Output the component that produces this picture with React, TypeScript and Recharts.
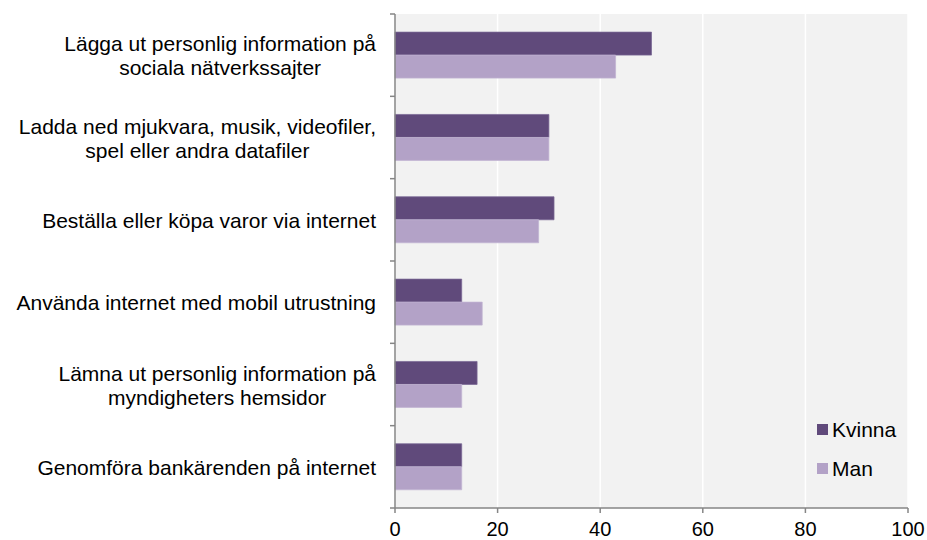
import React from 'react';
import { BarChart, Bar, XAxis, YAxis, CartesianGrid } from 'recharts';

const categories = [
  ['Lägga ut personlig information på', 'sociala nätverkssajter'],
  ['Ladda ned mjukvara, musik, videofiler,', 'spel eller andra datafiler'],
  ['Beställa eller köpa varor via internet'],
  ['Använda internet med mobil utrustning'],
  ['Lämna ut personlig information på', 'myndigheters hemsidor'],
  ['Genomföra bankärenden på internet'],
];
const kvinna = [50, 30, 31, 13, 16, 13];
const man = [43, 30, 28, 17, 13, 13];
const xTicks = [0, 20, 40, 60, 80, 100];

const KVINNA_COLOR = '#604a7b';
const MAN_COLOR = '#b3a2c7';
const AXIS_COLOR = '#868686';
const FONT = '"Liberation Sans", Arial, sans-serif';
const LABEL_SIZE = 21;

const W = 927;
const H = 540;
const TOP = 14;
const BOTTOM = 508;
const LEFT = 395;
const RIGHT = 908;
const band = (BOTTOM - TOP) / categories.length;

const data = categories.map((lines, i) => ({
  name: lines.join(' '),
  lines,
  Kvinna: kvinna[i],
  Man: man[i],
}));

let ctx: CanvasRenderingContext2D | null = null;
function textWidth(s: string) {
  if (!ctx) {
    ctx = document.createElement('canvas').getContext('2d');
  }
  if (!ctx) return s.length * 10;
  ctx.font = `${LABEL_SIZE}px ${FONT}`;
  return ctx.measureText(s).width;
}

// category label, centred lines in a right-aligned block, tick mark at the band edge
function CategoryTick(props: any) {
  const { y, index } = props;
  const lines: string[] = data[index] ? data[index].lines : [props.payload.value];
  const maxW = Math.max(...lines.map(textWidth));
  const cx = LEFT - 19 - maxW / 2;
  const lineH = 24;
  const startY = y - ((lines.length - 1) * lineH) / 2;
  const top = y - band / 2;
  return (
    <g>
      <line x1={LEFT - 5} x2={LEFT} y1={top} y2={top} stroke={AXIS_COLOR} strokeWidth={1.5} />
      {index === categories.length - 1 && (
        <line x1={LEFT - 5} x2={LEFT} y1={top + band} y2={top + band} stroke={AXIS_COLOR} strokeWidth={1.5} />
      )}
      <text x={cx} y={startY} textAnchor="middle" dominantBaseline="central" fontSize={LABEL_SIZE} fontFamily={FONT} fill="#000">
        {lines.map((l, i) => (
          <tspan key={i} x={cx} y={startY + i * lineH}>
            {l}
          </tspan>
        ))}
      </text>
    </g>
  );
}

const legendItems = [
  { label: 'Kvinna', color: KVINNA_COLOR },
  { label: 'Man', color: MAN_COLOR },
];

export default function App() {
  return (
    <div style={{ position: 'absolute', left: 0, top: 0, width: W, height: H, background: '#fff' }}>
      <BarChart
        width={W}
        height={H}
        data={data}
        layout="vertical"
        margin={{ top: TOP, right: W - RIGHT, left: 0, bottom: H - BOTTOM - 32 }}
        barCategoryGap="22%"
        barGap={0}
      >
        <CartesianGrid fill="#f2f2f2" stroke="#ffffff" strokeWidth={1.5} horizontal={false} />
        <XAxis
          type="number"
          domain={[0, 100]}
          ticks={xTicks}
          height={32}
          tickSize={5}
          tickMargin={9}
          stroke={AXIS_COLOR}
          axisLine={{ stroke: AXIS_COLOR, strokeWidth: 1.5 }}
          tickLine={{ stroke: AXIS_COLOR, strokeWidth: 1.5 }}
          tick={{ fill: '#000', fontSize: 20, fontFamily: FONT }}
          interval={0}
        />
        <YAxis
          type="category"
          dataKey="name"
          width={LEFT}
          axisLine={{ stroke: AXIS_COLOR, strokeWidth: 1.5 }}
          tickLine={false}
          tick={<CategoryTick />}
          interval={0}
        />
        <Bar dataKey="Kvinna" fill={KVINNA_COLOR} stroke="#7a6794" strokeWidth={0.75} isAnimationActive={false} />
        <Bar dataKey="Man" fill={MAN_COLOR} stroke="#c2b4d3" strokeWidth={0.75} isAnimationActive={false} />
      </BarChart>
      <div
        style={{
          position: 'absolute',
          left: 817,
          top: 410,
          fontFamily: FONT,
          fontSize: LABEL_SIZE,
          color: '#000',
        }}
      >
        {legendItems.map((it) => (
          <div key={it.label} style={{ display: 'flex', alignItems: 'center', height: 39 }}>
            <span style={{ width: 11, height: 11, background: it.color, marginRight: 4, display: 'inline-block' }} />
            <span>{it.label}</span>
          </div>
        ))}
      </div>
    </div>
  );
}
